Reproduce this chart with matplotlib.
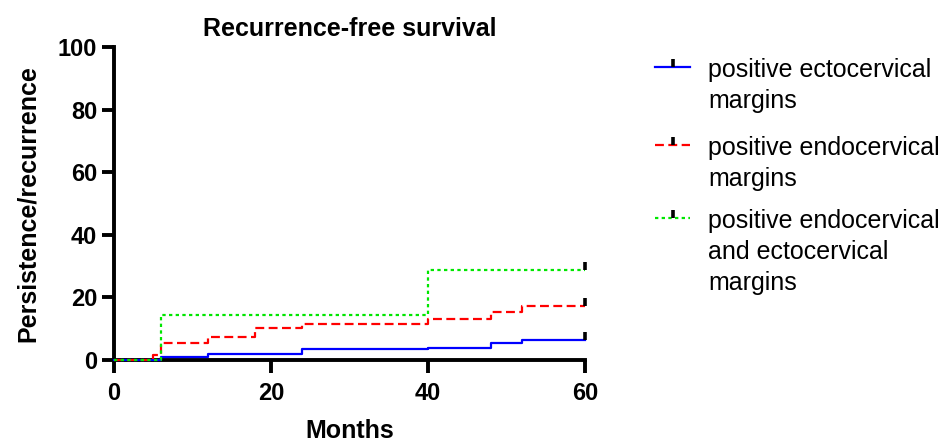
import numpy as np
import matplotlib
matplotlib.use("Agg")
import matplotlib.pyplot as plt
from matplotlib.path import Path
from matplotlib.lines import Line2D

# step data (months, % persistence/recurrence)
ecto_t = [0, 6, 12, 24, 40, 48, 52, 60]
ecto_y = [0, 1.1, 2.0, 3.5, 3.9, 5.3, 6.3, 6.3]
endo_t = [0, 5, 6, 12, 18, 24, 40, 48, 52, 60]
endo_y = [0, 1.6, 5.3, 7.4, 10.3, 11.4, 13.2, 15.2, 17.1, 17.1]
both_t = [0, 6, 40, 60]
both_y = [0, 14.3, 28.6, 28.6]

labels = [
    "positive ectocervical\nmargins",
    "positive endocervical\nmargins",
    "positive endocervical\nand ectocervical\nmargins",
]
colors = ["#0000ff", "#ff0000", "#00e600"]
styles = ["-", (0, (4, 2)), (0, (1.5, 1.5))]

bold_font = ["Liberation Sans", "DejaVu Sans"]
reg_font = ["Liberation Sans", "DejaVu Sans"]

# censor tick: vertical bar going up from the point
tick = Path([(0, 0), (0, 1)])

fig = plt.figure(figsize=(9.42, 4.42), dpi=100)
ax = fig.add_axes([114 / 942, 82 / 442, 471 / 942, 313 / 442])

series = [(ecto_t, ecto_y), (endo_t, endo_y), (both_t, both_y)]
for (t, y), c, ls in zip(series, colors, styles):
    ax.step(t, y, where="post", color=c, linestyle=ls, lw=1.6, clip_on=False, zorder=3)
    ax.plot([t[-1]], [y[-1]], marker=tick, ms=11, mew=2.6, color="black",
            linestyle="none", clip_on=False, zorder=4)

ax.set_xlim(0, 60)
ax.set_ylim(0, 100)
ax.set_xticks([0, 20, 40, 60])
ax.set_yticks([0, 20, 40, 60, 80, 100])
for s in ["top", "right"]:
    ax.spines[s].set_visible(False)
for s in ["left", "bottom"]:
    ax.spines[s].set_linewidth(2.8)
ax.tick_params(width=2.8, length=9, labelsize=17)
ax.tick_params(axis="x", pad=7)
ax.tick_params(axis="y", pad=3)
for lab in ax.get_xticklabels() + ax.get_yticklabels():
    lab.set_fontfamily(bold_font)
    lab.set_fontweight("bold")

ax.set_xlabel("Months", fontsize=18, fontweight="bold", family=bold_font, labelpad=10)
ax.set_ylabel("Persistence/recurrence", fontsize=18, fontweight="bold", family=bold_font, labelpad=13)
ax.set_title("Recurrence-free survival", fontsize=18, fontweight="bold", family=bold_font, pad=8)

# legend drawn by hand so the handle lines up with the first text line
first_line_y = [67, 145, 218]
for lab, c, ls, yp in zip(labels, colors, styles, first_line_y):
    yf = 1 - yp / 442
    fig.add_artist(Line2D([655 / 942, 690 / 942], [yf, yf], color=c, linestyle=ls,
                          lw=1.6, transform=fig.transFigure))
    fig.add_artist(Line2D([672.5 / 942], [yf], marker=tick, ms=11, mew=2.6,
                          color="black", linestyle="none", transform=fig.transFigure))
    fig.text(708 / 942, 1 - (yp - 9) / 442, lab, fontsize=18, family=reg_font, va="top",
             ha="left", linespacing=1.37, transform=fig.transFigure)

fig.savefig("out.png", dpi=100)
